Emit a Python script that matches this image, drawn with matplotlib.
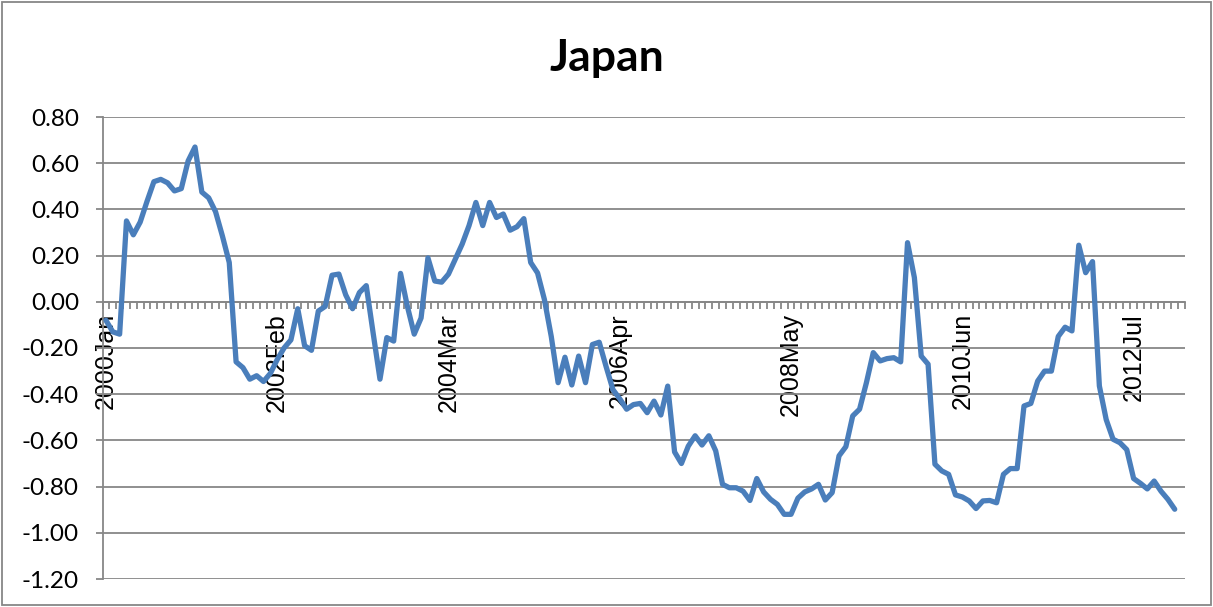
import matplotlib
matplotlib.use("Agg")
import matplotlib.pyplot as plt
from matplotlib.patches import Rectangle
import numpy as np

# monthly index, Jan 2000 .. Jan 2013
values = [
    -0.08, -0.13, -0.14, 0.35, 0.29, 0.345, 0.435, 0.52, 0.53, 0.515,
    0.48, 0.49, 0.61, 0.67, 0.475, 0.45, 0.39, 0.285, 0.17, -0.26,
    -0.285, -0.335, -0.32, -0.345, -0.31, -0.25, -0.20, -0.165, -0.03, -0.19,
    -0.21, -0.04, -0.02, 0.115, 0.12, 0.03, -0.03, 0.04, 0.07, -0.135,
    -0.335, -0.155, -0.17, 0.123, -0.02, -0.14, -0.07, 0.19, 0.09, 0.085,
    0.12, 0.185, 0.25, 0.33, 0.43, 0.33, 0.43, 0.365, 0.38, 0.31,
    0.325, 0.36, 0.17, 0.125, 0.01, -0.15, -0.35, -0.24, -0.36, -0.235,
    -0.35, -0.185, -0.175, -0.28, -0.38, -0.42, -0.465, -0.445, -0.44, -0.48,
    -0.43, -0.49, -0.365, -0.65, -0.70, -0.625, -0.58, -0.62, -0.58, -0.645,
    -0.79, -0.805, -0.805, -0.82, -0.86, -0.765, -0.823, -0.855, -0.877, -0.92,
    -0.92, -0.85, -0.823, -0.81, -0.79, -0.858, -0.826, -0.667, -0.627, -0.494,
    -0.465, -0.35, -0.22, -0.256, -0.246, -0.242, -0.26, 0.256, 0.105, -0.235,
    -0.27, -0.703, -0.732, -0.747, -0.836, -0.845, -0.862, -0.895, -0.862, -0.86,
    -0.87, -0.747, -0.722, -0.722, -0.451, -0.44, -0.343, -0.30, -0.30, -0.15,
    -0.11, -0.126, 0.245, 0.126, 0.174, -0.364, -0.51, -0.595, -0.61, -0.64,
    -0.765, -0.786, -0.81, -0.776, -0.82, -0.855, -0.898,
]
n_categories = 158
label_step = 25
tick_labels = ["2000Jan", "2002Feb", "2004Mar", "2006Apr", "2008May", "2010Jun", "2012Jul"]
y_ticks = [-1.2, -1.0, -0.8, -0.6, -0.4, -0.2, 0.0, 0.2, 0.4, 0.6, 0.8]
title = "Japan"

grey = "#878787"
blue = "#4A7EBB"

fig = plt.figure(figsize=(12.13, 6.07), dpi=100)
ax = fig.add_axes([102.5 / 1213, 28 / 607, 1082.5 / 1213, 462 / 607])

x = np.arange(len(values))
ax.plot(x, values, color=blue, lw=3.8, solid_joinstyle="round", solid_capstyle="round", zorder=3)

ax.set_xlim(-0.5, n_categories - 0.5)
ax.set_ylim(-1.2, 0.8)
ax.set_yticks(y_ticks)
ax.set_yticklabels([f"{v:.2f}" for v in y_ticks], fontsize=17.5, fontfamily="Lato")
ax.grid(axis="y", color=grey, lw=1.3, zorder=0)

for s in ["top", "right"]:
    ax.spines[s].set_visible(False)
ax.spines["left"].set_color(grey)
ax.spines["left"].set_linewidth(1.3)
ax.spines["bottom"].set_position(("data", 0))
ax.spines["bottom"].set_color(grey)
ax.spines["bottom"].set_linewidth(1.3)

ax.tick_params(axis="y", direction="out", length=5, width=1.3, color=grey, pad=12)

# category boundaries get the small tick marks, labels sit on every 25th month
ax.set_xticks(np.arange(-0.5, n_categories, 1.0), minor=True)
ax.set_xticks(np.arange(0, n_categories, label_step)[:len(tick_labels)])
ax.set_xticklabels(tick_labels, rotation=90, fontsize=18, fontfamily="Liberation Sans",
                   va="top", ha="center")
ax.tick_params(axis="x", which="minor", direction="out", length=5, width=1.3, color=grey)
ax.tick_params(axis="x", which="major", length=0, pad=8)

fig.text(0.5, 0.905, title, ha="center", va="center", fontsize=32,
         fontweight="bold", fontfamily="Lato")

fig.patches.append(Rectangle((2 / 1213, 2 / 607), 1 - 4 / 1213, 1 - 4 / 607,
                             transform=fig.transFigure, fill=False,
                             edgecolor=grey, lw=1.3))

fig.savefig("out.png", dpi=100)
